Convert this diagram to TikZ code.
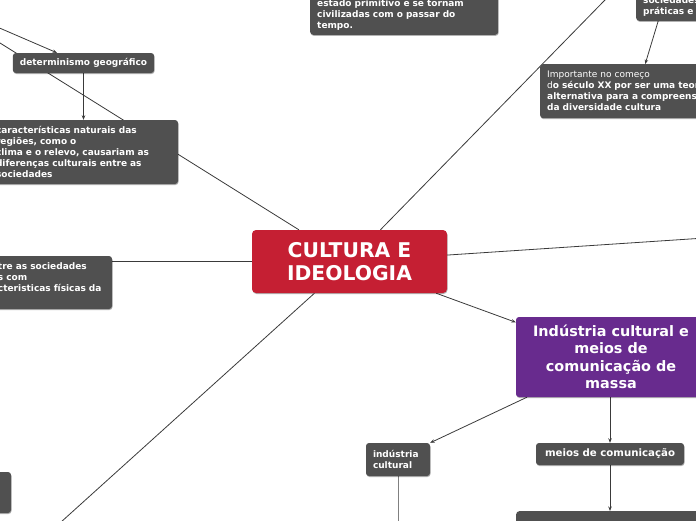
\documentclass[tikz,border=0pt]{standalone}
\usepackage{fontspec}
\setmainfont{DejaVu Sans}
\usetikzlibrary{arrows.meta,calc,shadows,backgrounds}
\definecolor{boxgray}{HTML}{505050}
\definecolor{crimson}{HTML}{C51F33}
\definecolor{mmpurple}{HTML}{682B8E}
\definecolor{linegray}{HTML}{3A3A3A}
\begin{document}
\begin{tikzpicture}[x=1pt,y=-1pt,
  shad/.style={drop shadow={shadow xshift=0.5pt,shadow yshift=-1pt,opacity=0.3,fill=black}},
  box/.style={fill=boxgray, rounded corners=3pt, text=white,
    font=\fontsize{9}{11}\selectfont\bfseries, inner xsep=7pt, inner ysep=4pt, shad},
  conn/.style={draw=linegray, line width=0.8pt},
  arr/.style={conn, -{Stealth[length=4.5pt,width=3.5pt]}}]
\useasboundingbox (0,0) rectangle (696,520);
\clip (0,0) rectangle (696,520);

% nodes
\node[box, minimum width=141pt, minimum height=20pt] (det) at (83.5,63) {determinismo geográfico};
\node[box, text width=175pt, align=left, minimum height=64pt] (car) at (83.5,152)
  {características naturais das\\regiões, como o\\clima e o relevo, causariam as\\diferenças culturais entre as\\sociedades};
\node[box, text width=174pt, align=left, anchor=south west] (top) at (310,35)
  {estado primitivo e se tornam\\civilizadas com o passar do\\tempo.};
\node[box, text width=120pt, align=left, anchor=south west] (tr) at (636,21)
  {sociedades\\práticas e};
\node[box, text width=190pt, align=left, minimum height=54pt, anchor=north west] (imp) at (540,64)
  {{\mdseries Importante no começo}\\{\mdseries d}o século XX por ser uma teoria\\alternativa para a compreensão\\da diversidade cultura};
\node[box, text width=107pt, align=left, minimum height=53pt] (lb) at (51.5,282.5)
  {tre as sociedades\\s com\\cteristicas físicas da\\~};
\node[fill=crimson, rounded corners=4pt, text=white, font=\fontsize{20.3}{23}\selectfont\bfseries,
  align=center, minimum width=195pt, minimum height=63pt, shad] (cen) at (349.5,261.5) {CULTURA E\\IDEOLOGIA};
\node[fill=mmpurple, rounded corners=3pt, text=white, font=\fontsize{14.4}{17.5}\selectfont\bfseries,
  align=center, minimum width=190pt, minimum height=80pt, shad] (pur) at (611,357)
  {Indústria cultural e\\meios de\\comunicação de\\massa};
\node[box, text width=50pt, align=left, minimum height=33pt] (ind) at (398,459.5) {indústria\\cultural};
\node[box, font=\fontsize{10.2}{12}\selectfont\bfseries, minimum width=148pt, minimum height=22pt] (mei) at (610,454) {meios de comunicação};
\node[box, minimum width=190pt, minimum height=40pt, anchor=north west] (bot) at (516,511) {};
\node[box, minimum width=61pt, minimum height=41pt] (bl) at (-19.5,492.5) {};

% free ends
\coordinate (tl1) at (-20,30.5);
\coordinate (tl2) at (-20,19.6);
\coordinate (tr1) at (625,-20.5);
\coordinate (r1) at (720,237);
\coordinate (bl1) at (40,541);
\coordinate (indend) at (398,530);

\begin{scope}[on background layer]
\draw[conn] (tl1) -- (cen);
\draw[arr] (tl2) -- ([xshift=-26.5pt]det.north);
\draw[arr] (det) -- (car);
\draw[conn] (cen) -- (tr1);
\draw[conn] (cen) -- (r1);
\draw[arr] (cen) -- (pur);
\draw[conn] (cen.west) -- (cen.west -| lb.east);
\draw[conn] (cen) -- (bl1);
\draw[arr] ([xshift=-45pt]tr.south) -- ([xshift=3pt]imp.north);
\draw[arr] ([xshift=-84pt]pur.south) -- (ind.north east);
\draw[arr] (pur.south -| mei.north) -- (mei.north);
\draw[arr] (mei.south) -- (mei.south |- bot.north);
\draw[conn, draw=gray, line width=1pt] (ind.south) -- (indend);
\end{scope}
\end{tikzpicture}
\end{document}
